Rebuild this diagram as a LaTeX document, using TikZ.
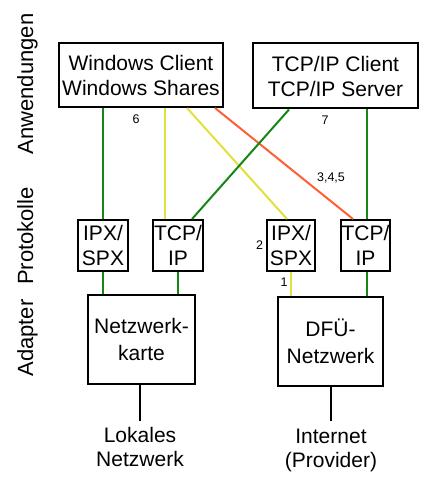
\documentclass[tikz,border=0pt]{standalone}
\usepackage{fontspec}
\setmainfont{Liberation Sans}
\begin{document}
\begin{tikzpicture}[x=1pt,y=-1pt,
  box/.style={draw=black,line width=2pt,inner sep=0pt,align=center,
    font=\fontsize{21}{25}\selectfont},
  lbl/.style={inner sep=0pt,align=center,font=\fontsize{21}{24}\selectfont},
  side/.style={rotate=90,anchor=base,inner sep=0pt,font=\fontsize{22}{26}\selectfont},
  num/.style={inner sep=0pt,font=\fontsize{12.5}{14}\selectfont},
  gr/.style={draw={rgb,255:red,20;green,135;blue,20},line width=2pt},
  ye/.style={draw={rgb,255:red,225;green,225;blue,60},line width=2pt},
  orr/.style={draw={rgb,255:red,255;green,95;blue,50},line width=2pt},
  bl/.style={draw=black,line width=2pt}]
\useasboundingbox (0,0) rectangle (441,500);
\fill[white] (0,0) rectangle (441,500);

% side labels
\node[side] (lanw) at (33,84) {Anwendungen};
\node[side] (lprot) at (33,236) {Protokolle};
\node[side] (ladap) at (33,338) {Adapter};

% application boxes
\node[box,minimum width=164pt,minimum height=64pt] (wc) at (141,75) {Windows Client\\Windows Shares};
\node[box,minimum width=165pt,minimum height=65pt] (tc) at (335.5,76) {TCP/IP Client\\TCP/IP Server};

% protocol boxes
\node[box,minimum width=50pt,minimum height=51pt] (ipx1) at (103,245.5) {IPX/\\SPX};
\node[box,minimum width=50pt,minimum height=51pt] (tcp1) at (178,245.5) {TCP/\\IP};
\node[box,minimum width=48pt,minimum height=51pt] (ipx2) at (291,245.5) {IPX/\\SPX};
\node[box,minimum width=49pt,minimum height=51pt] (tcp2) at (365.5,245.5) {TCP/\\IP};

% adapter boxes
\node[box,minimum width=107pt,minimum height=89pt,font=\fontsize{21}{27}\selectfont] (nk) at (141.5,339.5) {Netzwerk-\\karte};
\node[box,minimum width=105pt,minimum height=89pt,font=\fontsize{21}{27}\selectfont] (dfu) at (330.5,341.5) {DFÜ-\\Netzwerk};

% bottom labels
\coordinate (lokend) at (140,421);
\coordinate (intend) at (331,421);
\node[lbl,anchor=north] (lok) at (140,427) {Lokales\\Netzwerk};
\node[lbl,anchor=north] (inet) at (331,429) {Internet\\(Provider)};

% application -> protocol connectors
\draw[gr] (ipx1.north |- wc.south) -- (ipx1.north);
\draw[ye] ([xshift=-13pt]tcp1.north |- wc.south) -- ([xshift=-13pt]tcp1.north);
\draw[ye] ([xshift=46pt]wc.south) -- ([xshift=-4pt]ipx2.north);
\draw[orr] ([xshift=74pt]wc.south) -- ([xshift=-12.5pt]tcp2.north);
\draw[gr] ([xshift=-46.5pt]tc.south) -- ([xshift=14pt]tcp1.north);
\draw[gr] ([xshift=1.5pt]tcp2.north |- tc.south) -- ([xshift=1.5pt]tcp2.north);

% protocol -> adapter connectors
\draw[gr] (ipx1.south) -- (ipx1.south |- nk.north);
\draw[gr] (tcp1.south) -- (tcp1.south |- nk.north);
\draw[ye] (ipx2.south) -- (ipx2.south |- dfu.north);
\draw[gr] ([xshift=1.5pt]tcp2.south) -- ([xshift=1.5pt]tcp2.south |- dfu.north);

% adapter -> network
\draw[bl] (lokend |- nk.south) -- (lokend);
\draw[bl] (intend |- dfu.south) -- (intend);

% numbers
\node[num] (n6) at (136,119) {6};
\node[num] (n7) at (325,120) {7};
\node[num] (n345) at (331,178) {3,4,5};
\node[num] (n2) at (259.5,245) {2};
\node[num] (n1) at (284,282) {1};
\end{tikzpicture}
\end{document}
